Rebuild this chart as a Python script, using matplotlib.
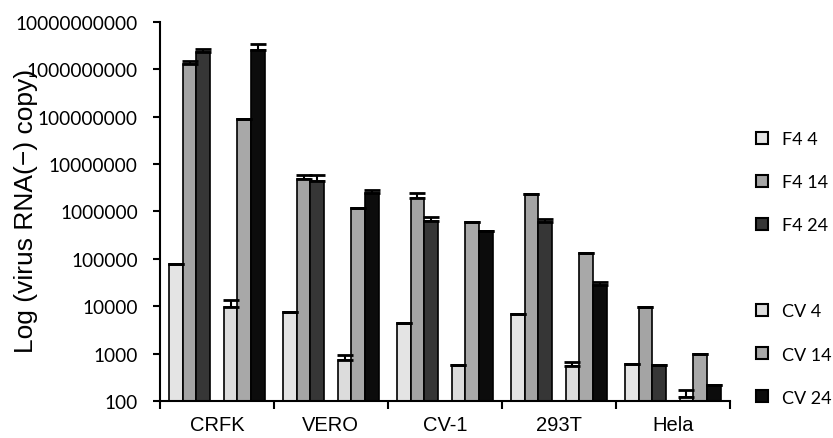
import matplotlib
matplotlib.use('Agg')
import matplotlib.pyplot as plt
import numpy as np
from matplotlib.patches import Patch
from matplotlib.ticker import FixedLocator, FuncFormatter, NullLocator

cells = ['CRFK', 'VERO', 'CV-1', '293T', 'Hela']
series = ['F4 4', 'F4 14', 'F4 24', 'CV 4', 'CV 14', 'CV 24']

# mean copies per series, one value per cell line
f4_4 = [79000, 7600, 4400, 6800, 600]
f4_14 = [1.3e9, 4.8e6, 1.95e6, 2.3e6, 9800]
f4_24 = [2.3e9, 4.4e6, 6.3e5, 5.9e5, 570]
cv_4 = [9600, 750, 580, 540, 125]
cv_14 = [9.0e7, 1.17e6, 6.0e5, 1.3e5, 980]
cv_24 = [2.6e9, 2.4e6, 3.8e5, 2.8e4, 220]

# top of the error bar (same as mean where no bar is visible)
f4_4_top = [79000, 7600, 4400, 6800, 600]
f4_14_top = [1.5e9, 6.0e6, 2.4e6, 2.3e6, 9800]
f4_24_top = [2.7e9, 6.0e6, 7.6e5, 7.1e5, 570]
cv_4_top = [13500, 950, 580, 680, 170]
cv_14_top = [9.0e7, 1.17e6, 6.0e5, 1.3e5, 980]
cv_24_top = [3.4e9, 2.9e6, 3.8e5, 3.3e4, 220]

means = [f4_4, f4_14, f4_24, cv_4, cv_14, cv_24]
tops = [f4_4_top, f4_14_top, f4_24_top, cv_4_top, cv_14_top, cv_24_top]
colors = ['#e4e4e4', '#a4a4a4', '#363636', '#dcdcdc', '#a8a8a8', '#0c0c0c']
slots = [-3, -2, -1, 1, 2, 3]
w = 0.12

fig = plt.figure(figsize=(8.33, 4.39), dpi=100)
ax = fig.add_axes([0.192, 0.084, 0.684, 0.864])
ax.set_yscale('log')

x = np.arange(len(cells))
for vals, up, col, s in zip(means, tops, colors, slots):
    vals = np.array(vals)
    err = np.array(up) - vals
    ax.bar(x + s * w, vals, w, color=col, edgecolor='black', linewidth=1.2, zorder=2)
    ax.errorbar(x + s * w, vals, yerr=[np.zeros_like(vals), err], fmt='none',
                ecolor='black', elinewidth=1.5, capsize=5.5, capthick=2, zorder=3)

ax.set_xlim(-0.5, len(cells) - 0.5)
ax.set_ylim(100, 1e10)

ax.yaxis.set_major_locator(FixedLocator([10.0 ** k for k in range(2, 11)]))
ax.yaxis.set_minor_locator(NullLocator())
ax.yaxis.set_major_formatter(FuncFormatter(lambda v, p: f'{int(round(v))}'))
ax.tick_params(axis='y', labelsize=13.7, length=5, width=1.5, direction='out', pad=11)
for t in ax.get_yticklabels():
    t.set_family('Lato')

ax.set_xticks(np.arange(-0.5, len(cells), 1.0))
ax.set_xticklabels([])
ax.set_xticks(x, minor=True)
ax.set_xticklabels(cells, minor=True, fontsize=14.5, family='Liberation Sans')
ax.tick_params(axis='x', which='major', length=6, width=1.5, direction='out')
ax.tick_params(axis='x', which='minor', length=0, pad=10)

for side in ['top', 'right']:
    ax.spines[side].set_visible(False)
for side in ['left', 'bottom']:
    ax.spines[side].set_linewidth(1.5)

# the label sits over the tick labels, as in the original
ax.set_ylabel('Log (virus RNA(\u2212) copy)', fontsize=19, family='Liberation Sans')
ax.yaxis.set_label_coords(-0.214, 0.504)

handles = []
labels = []
for i, (col, name) in enumerate(zip(colors, series)):
    if i == 3:
        handles.append(Patch(facecolor='none', edgecolor='none'))
        labels.append(' ')
    handles.append(Patch(facecolor=col, edgecolor='black', linewidth=1.5))
    labels.append(name)
leg = ax.legend(handles, labels, loc='center left', bbox_to_anchor=(1.047, 0.35),
                frameon=False, prop={'family': 'Lato', 'size': 13},
                borderaxespad=0, borderpad=0,
                handlelength=0.62, handleheight=0.62, handletextpad=0.78, labelspacing=1.5)

fig.savefig('out.png', dpi=100)
